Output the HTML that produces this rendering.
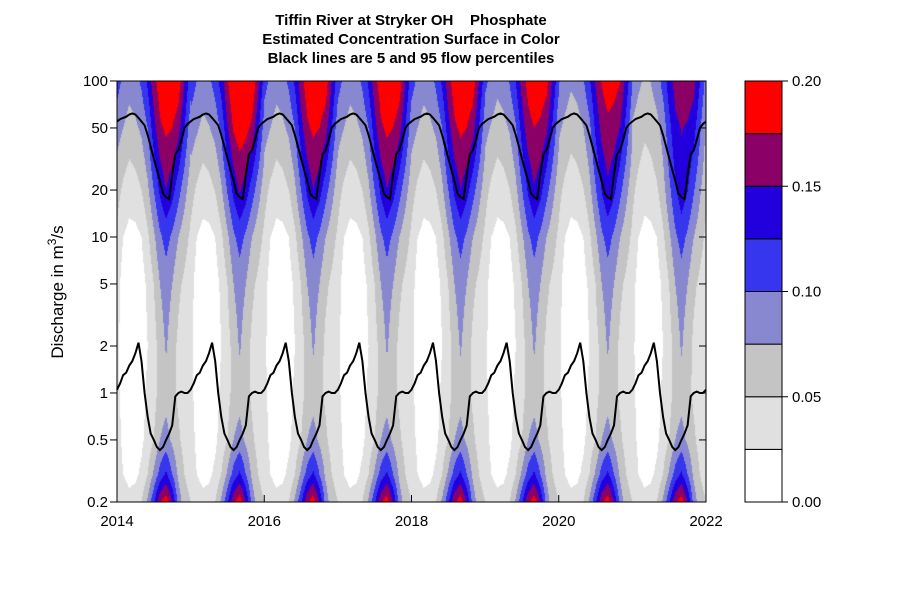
<!DOCTYPE html>
<html><head><meta charset="utf-8"><style>
body{margin:0;background:#fff;width:900px;height:600px;overflow:hidden;font-family:"Liberation Sans",sans-serif;}
#wrap{position:relative;width:900px;height:600px;}
canvas{position:absolute;left:117px;top:81px;}
svg{position:absolute;left:0;top:0;}
</style></head><body>
<div id="wrap">
<canvas id="surf" width="589" height="421"></canvas>
<svg id="svg" width="900" height="600"></svg>
</div>
<script>
// Data
const qLevels = [0.2,0.3,0.5,1,2,5,10,20,50,100];
const phaseConc = [
 [.05,.04,.035,.03,.03,.035,.045,.06,.085,.11],
 [.035,.025,.02,.018,.015,.015,.025,.045,.075,.095],
 [.03,.02,.015,.01,.008,.008,.018,.035,.065,.085],
 [.035,.02,.015,.01,.008,.008,.018,.04,.07,.09],
 [.05,.03,.02,.015,.012,.015,.025,.05,.08,.105],
 [.08,.05,.035,.03,.025,.03,.045,.07,.10,.13],
 [.12,.08,.05,.04,.04,.05,.07,.10,.14,.165],
 [.17,.11,.075,.06,.06,.075,.095,.13,.17,.19],
 [.19,.13,.085,.065,.078,.088,.11,.15,.18,.205],
 [.15,.10,.07,.058,.06,.075,.095,.135,.175,.20],
 [.09,.07,.055,.045,.045,.055,.075,.11,.16,.19],
 [.06,.05,.04,.035,.035,.045,.06,.085,.125,.15]
];
const yearScale = [1.0,1.05,1.0,1.0,1.0,0.97,0.93,0.84];
const lowFlow = [1.05,1.15,1.3,1.35,1.5,1.6,1.8,2.1,1.6,1.0,0.7,0.55,0.5,0.45,0.43,0.45,0.5,0.55,0.62,0.95,1.0,1.02,1.0,1.0];
const highFlow = [55,57,58,59,61,62,61,58,55,52,45,38,32,27,23,19,18,17.5,25,34,36,42,50,53];
const yTicks = [0.2,0.5,1,2,5,10,20,50,100];
const yTickLabels = ["0.2","0.5","1","2","5","10","20","50","100"];
const xTicks = [2014,2016,2018,2020,2022];
const levels = [0,0.025,0.05,0.075,0.1,0.125,0.15,0.175,0.2];
const levelColors = ["#ffffff","#e0e0e0","#c4c4c4","#8888d0","#3636ee","#2200dd","#8b0066","#ff0000"];
const cbLabels = ["0.00","0.05","0.10","0.15","0.20"];

const X0=117,X1=706,Y0=81,Y1=502;
const xs = t => X0+(t-2014)/8*(X1-X0);
const ys = q => Y0+(2-Math.log10(q))/(2-Math.log10(0.2))*(Y1-Y0);
const invX = px => 2014+(px-X0)/(X1-X0)*8;
const invY = py => Math.pow(10, 2-(py-Y0)/(Y1-Y0)*(2-Math.log10(0.2)));

function conc(t,q){
  const yr=Math.min(7,Math.max(0,Math.floor(t-2014)));
  let ph=((t-2014)%1+1)%1*12;
  const i0=Math.floor(ph)%12,i1=(i0+1)%12,fp=ph-Math.floor(ph);
  const lq=Math.log10(q);
  let j=0; while(j<qLevels.length-2 && Math.log10(qLevels[j+1])<lq) j++;
  const a=Math.log10(qLevels[j]),b=Math.log10(qLevels[j+1]);
  let fq=Math.max(0,Math.min(1,(lq-a)/(b-a)));
  const v0=phaseConc[i0][j]*(1-fq)+phaseConc[i0][j+1]*fq;
  const v1=phaseConc[i1][j]*(1-fq)+phaseConc[i1][j+1]*fq;
  let v=(v0*(1-fp)+v1*fp);
  const w=Math.max(0,Math.min(1,(lq-1)/(Math.log10(50)-1)));
  v*=1+(yearScale[yr]-1)*w;
  return v;
}
function colorFor(v){
  for(let k=levels.length-2;k>=0;k--) if(v>=levels[k]) return levelColors[k];
  return levelColors[0];
}
const ctx=document.getElementById('surf').getContext('2d');
for(let px=0;px<589;px++){
  const t=invX(X0+px+0.5);
  for(let py=0;py<421;py++){
    ctx.fillStyle=colorFor(conc(t,invY(Y0+py+0.5)));
    ctx.fillRect(px,py,1,1);
  }
}
const NS='http://www.w3.org/2000/svg';
const svg=document.getElementById('svg');
function mk(tag,attrs,parent){const e=document.createElementNS(NS,tag);for(const k in attrs)e.setAttribute(k,attrs[k]);(parent||svg).appendChild(e);return e;}
function txt(s,attrs){const e=mk('text',attrs);e.textContent=s;return e;}

function flowPath(arr,name){
  let d='';
  for(let yr=0;yr<8;yr++) for(let k=0;k<arr.length;k++){
    const t=2014+yr+k/arr.length;
    d+=(d?'L':'M')+xs(t).toFixed(1)+','+ys(arr[k]).toFixed(1);
  }
  d+='L'+xs(2022).toFixed(1)+','+ys(arr[0]).toFixed(1);
  const p=mk('path',{d:d,fill:'none',stroke:'#000','stroke-width':2});
  
  
}
flowPath(highFlow,'flow-95-percentile-line');
flowPath(lowFlow,'flow-5-percentile-line');

const fr=mk('rect',{x:X0,y:Y0,width:X1-X0,height:Y1-Y0,fill:'none',stroke:'#000','stroke-width':1});


yTicks.forEach((q,i)=>{
  const y=ys(q);
  mk('line',{x1:X0-7,x2:X0,y1:y,y2:y,stroke:'#000'});
  mk('line',{x1:X1-7,x2:X1,y1:y,y2:y,stroke:'#000'});
  const t=txt(yTickLabels[i],{x:X0-9,y:y+5,'text-anchor':'end','font-size':15});
  
});
xTicks.forEach(v=>{
  const x=xs(v);
  mk('line',{x1:x,x2:x,y1:Y1,y2:Y1-7,stroke:'#000'});
  const t=txt(String(v),{x:x,y:Y1+24,'text-anchor':'middle','font-size':15});
  
});
const yl=txt('',{x:0,y:0,transform:'translate(63,292) rotate(-90)','text-anchor':'middle','font-size':17});
yl.innerHTML='Discharge in m<tspan dy="-7" font-size="12">3</tspan><tspan dy="7">/s</tspan>';


["Tiffin River at Stryker OH    Phosphate","Estimated Concentration Surface in Color","Black lines are 5 and 95 flow percentiles"].forEach((s,i)=>{
  const t=txt(s,{x:411,y:25+i*19,'text-anchor':'middle','font-size':15,'font-weight':'bold',style:'white-space:pre'});
  
});

const CX=745,CW=37,bh=(Y1-Y0)/levelColors.length;
levelColors.forEach((c,k)=>{
  const r=mk('rect',{x:CX,y:Y1-(k+1)*bh,width:CW,height:bh,fill:c,stroke:'#000','stroke-width':1});
  
});
cbLabels.forEach((s,i)=>{
  const y=Y1-i*2*bh;
  mk('line',{x1:CX+CW,x2:CX+CW+6,y1:y,y2:y,stroke:'#000'});
  const t=txt(s,{x:792,y:y+5,'font-size':15});
  
});
</script>
</body></html>
